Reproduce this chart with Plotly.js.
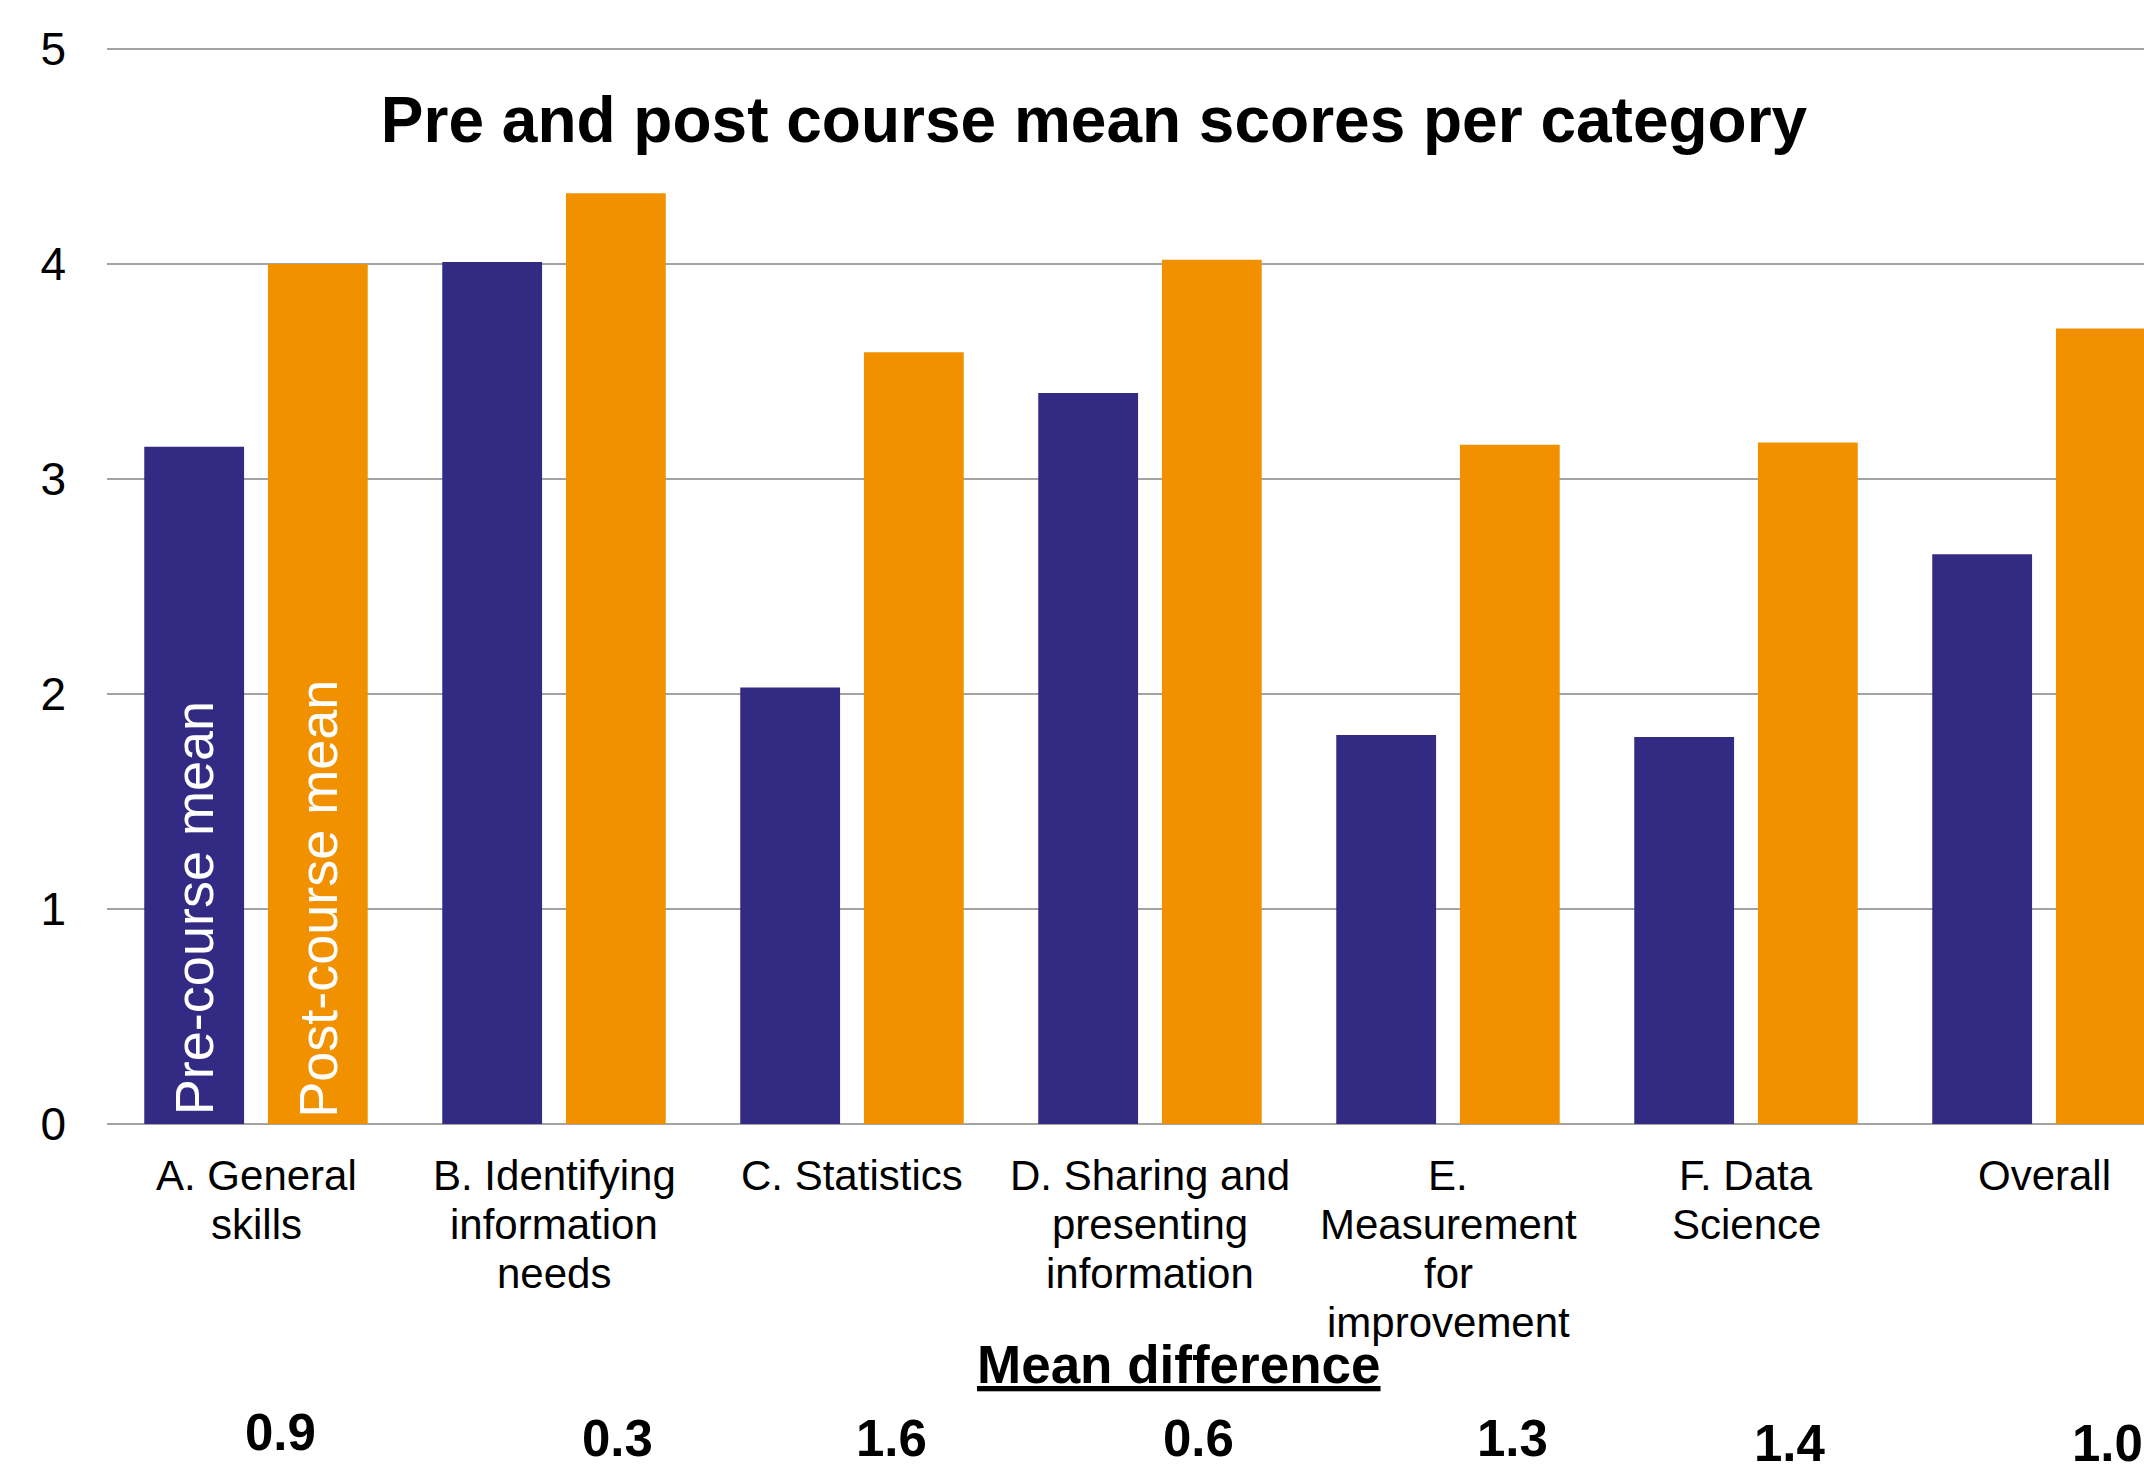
<!DOCTYPE html>
<html>
<head>
<meta charset="utf-8">
<script src="https://cdn.plot.ly/plotly-3.0.1.min.js"></script>
<style>
html, body { margin: 0; padding: 0; overflow: hidden; background: #fff; }
#chart { width: 2200px; height: 1466px; }
</style>
</head>
<body>
<div id="chart"></div>
<script>
// ---- data ----
const categories = [
  "A. General skills",
  "B. Identifying information needs",
  "C. Statistics",
  "D. Sharing and presenting information",
  "E. Measurement for improvement",
  "F. Data Science",
  "Overall"
];
const tickLabels = [
  "A. General<br>skills",
  "B. Identifying<br>information<br>needs",
  "C. Statistics",
  "D. Sharing and<br>presenting<br>information",
  "E.<br>Measurement<br>for<br>improvement",
  "F. Data<br>Science",
  "Overall"
];
const preMean  = [3.15, 4.01, 2.03, 3.40, 1.81, 1.80, 2.65];
const postMean = [4.00, 4.33, 3.59, 4.02, 3.16, 3.17, 3.70];
const meanDiff = ["0.9", "0.3", "1.6", "0.6", "1.3", "1.4", "1.0"];

// ---- styling ----
const FONT = "Liberation Sans, Arial, sans-serif";
const PRE_COLOR = "#332a84";
const POST_COLOR = "#f29100";
const GRID = "#a3a3a3";
const diffShift = [24, 63, 39, 48, 64, 44, 63];   // horizontal pixel offsets of the difference labels
const diffYShift = [6, 0, 0, 0, 0, -5, -5];
const LABEL_TOP = 51;      // px below the axis to centre of the first label line
const LABEL_LINE = 49;     // px between label lines

const traces = [
  { type: "bar", name: "Pre-course mean", x: categories, y: preMean,
    marker: { color: PRE_COLOR }, hoverinfo: "y" },
  { type: "bar", name: "Post-course mean", x: categories, y: postMean,
    marker: { color: POST_COLOR }, hoverinfo: "y" }
];

const annotations = [
  { text: "Pre-course mean", x: -0.2075, y: 0, xref: "x", yref: "y",
    xanchor: "center", yanchor: "bottom", yshift: 7, textangle: -90,
    showarrow: false, font: { family: FONT, size: 54, color: "#ffffff" } },
  { text: "Post-course mean", x: 0.2075, y: 0, xref: "x", yref: "y",
    xanchor: "center", yanchor: "bottom", yshift: 4, textangle: -90,
    showarrow: false, font: { family: FONT, size: 54, color: "#ffffff" } },
  { text: "<b><u>Mean difference</u></b>", x: categories[3], xref: "x", xshift: 29,
    y: 0, yref: "y", yshift: -240, xanchor: "center", yanchor: "middle",
    showarrow: false, font: { family: FONT, size: 53, color: "#000" } }
];

// category labels, one annotation per line
tickLabels.forEach((lbl, i) => {
  lbl.split("<br>").forEach((line, k) => {
    annotations.push({
      text: line, x: categories[i], xref: "x", y: 0, yref: "y",
      yshift: -(LABEL_TOP + LABEL_LINE * k), xanchor: "center", yanchor: "middle",
      showarrow: false, font: { family: FONT, size: 42, color: "#000" }
    });
  });
});

meanDiff.forEach((d, i) => {
  annotations.push({
    text: "<b>" + d + "</b>", x: categories[i], xref: "x",
    y: 0, yref: "y", yshift: -314 + diffYShift[i],
    xanchor: "center", yanchor: "middle", xshift: diffShift[i],
    showarrow: false, font: { family: FONT, size: 51, color: "#000" }
  });
});

const layout = {
  width: 2200, height: 1466,
  margin: { l: 107, r: 7, t: 47, b: 342, pad: 0 },
  paper_bgcolor: "#ffffff", plot_bgcolor: "#ffffff",
  showlegend: false,
  barmode: "group", bargap: 0.17, bargroupgap: 0.193,
  font: { family: FONT, color: "#000" },
  title: {
    text: "<b>Pre and post course mean scores per category</b>",
    font: { family: FONT, size: 64, color: "#000" },
    x: 1094 / 2200, xref: "container", xanchor: "center",
    y: 1 - 120 / 1466, yref: "container", yanchor: "middle"
  },
  xaxis: {
    type: "category", tickvals: categories, showticklabels: false,
    ticks: "", showline: false, showgrid: false, zeroline: false,
    automargin: false, fixedrange: true
  },
  yaxis: {
    range: [0, 5.01], tickvals: [0, 1, 2, 3, 4, 5],
    tickfont: { family: FONT, size: 46, color: "#000" },
    showgrid: true, gridcolor: GRID, gridwidth: 2,
    zeroline: true, zerolinecolor: GRID, zerolinewidth: 2,
    showline: false, ticks: "", ticklabelstandoff: 40,
    automargin: false, fixedrange: true
  },
  annotations: annotations
};

Plotly.newPlot("chart", traces, layout, { displayModeBar: false, staticPlot: true });
</script>
</body>
</html>
